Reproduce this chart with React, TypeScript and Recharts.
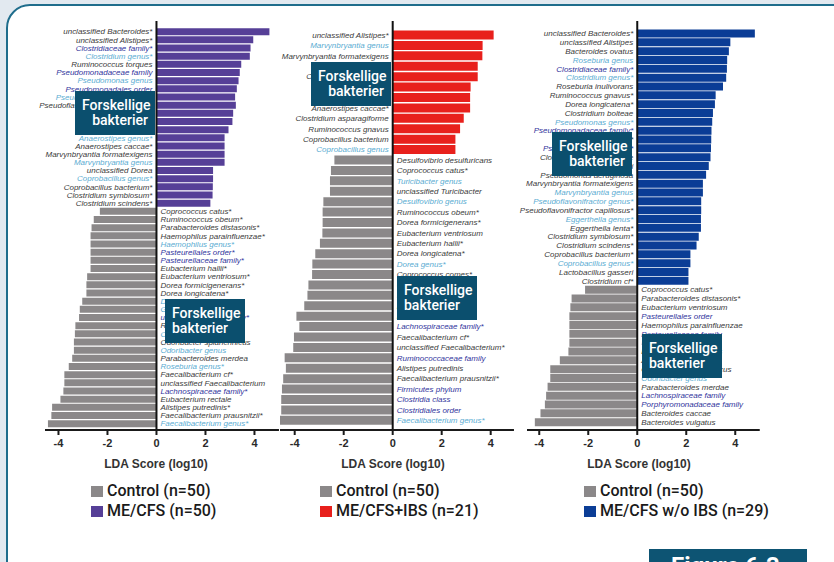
import React from 'react';
import { BarChart, Bar, XAxis, YAxis, Cell, LabelList, ReferenceLine } from 'recharts';

// ---------- Panel 1: ME/CFS vs Control ----------
const p1PosLabels = [
  'unclassified Bacteroides*', 'unclassified Alistipes*', 'Clostridiaceae family*', 'Clostridium genus*',
  'Ruminococcus torques', 'Pseudomonadaceae family', 'Pseudomonas genus', 'Pseudomonadales order',
  'Pseudoflavonifractor genus', 'Pseudoflavonifractor capillosus*', 'Eggerthella lenta', 'Roseburia inulivorans',
  'Clostridium bolteae', 'Anaerostipes genus*', 'Anaerostipes caccae*', 'Marvynbryantia formatexigens',
  'Marvynbryantia genus', 'unclassified Dorea', 'Coprobacillus genus*', 'Coprobacillus bacterium*',
  'Clostridium symbiosum*', 'Clostridium scindens*',
];
const p1PosKinds = ['s', 's', 'f', 'g', 's', 'f', 'g', 'f', 'g', 's', 's', 's', 's', 'g', 's', 's', 'g', 's', 'g', 's', 's', 's'];
const p1PosValues = [4.61, 3.95, 3.84, 3.81, 3.46, 3.4, 3.35, 3.28, 3.21, 3.24, 3.13, 3.1, 2.94, 2.78, 2.78, 2.78, 2.78, 2.31, 2.31, 2.3, 2.29, 2.2];
const p1NegLabels = [
  'Coprococcus catus*', 'Ruminococcus obeum*', 'Parabacteroides distasonis*', 'Haemophilus parainfluenzae*',
  'Haemophilus genus*', 'Pasteurellales order*', 'Pasteurellaceae family*', 'Eubacterium hallii*',
  'Eubacterium ventriosum*', 'Dorea formicigenerans*', 'Dorea longicatena*', 'Dorea genus*',
  'Gemmiger genus*', 'uncl. Clostridiales family*', 'Ruminococcus bromii', 'Coprococcus genus',
  'Odoribacter splanchnicus', 'Odoribacter genus', 'Parabacteroides merdea', 'Roseburia genus*',
  'Faecalibacterium cf*', 'unclassified Faecalibacterium', 'Lachnospiraceae family*', 'Eubacterium rectale',
  'Alistipes putredinis*', 'Faecalibacterium prausnitzii*', 'Faecalibacterium genus*',
];
const p1NegKinds = ['s', 's', 's', 's', 'g', 'f', 'f', 's', 's', 's', 's', 'g', 'g', 'f', 's', 'g', 's', 'g', 's', 'g', 's', 's', 'f', 's', 's', 's', 'g'];
const p1NegValues = [-2.31, -2.56, -2.65, -2.69, -2.69, -2.69, -2.69, -2.69, -2.83, -2.86, -2.86, -3.03, -3.13, -3.16, -3.31, -3.33, -3.37, -3.37, -3.44, -3.58, -3.76, -3.76, -3.8, -3.92, -4.26, -4.29, -4.43];

// ---------- Panel 2: ME/CFS+IBS vs Control ----------
const p2PosLabels = [
  'unclassified Alistipes*', 'Marvynbryantia genus', 'Marvynbryantia formatexigens', 'Clostridium bolteae',
  'Clostridium symbiosum', 'Clostridium scindens', 'Anaerostipes genus', 'Anaerostipes caccae*',
  'Clostridium asparagiforme', 'Ruminococcus gnavus', 'Coprobacillus bacterium', 'Coprobacillus genus',
];
const p2PosKinds = ['s', 'g', 's', 's', 's', 's', 'g', 's', 's', 's', 's', 'g'];
const p2PosValues = [4.12, 3.67, 3.66, 3.47, 3.47, 3.18, 3.16, 3.16, 2.9, 2.75, 2.56, 2.56];
const p2NegLabels = [
  'Desulfovibrio desulfuricans', 'Coprococcus catus*', 'Turicibacter genus', 'unclassified Turicibacter',
  'Desulfovibrio genus', 'Ruminococcus obeum*', 'Dorea formicigenerans*', 'Eubacterium ventriosum',
  'Eubacterium hallii*', 'Dorea longicatena*', 'Dorea genus*', 'Coprococcus comes*',
  'Coprococcus genus*', 'Roseburia genus', 'Eubacterium rectale', 'Roseburia faecis',
  'Lachnospiraceae family*', 'Faecalibacterium cf*', 'unclassified Faecalibacterium*', 'Ruminococcaceae family',
  'Alistipes putredinis', 'Faecalibacterium prausnitzii*', 'Firmicutes phylum', 'Clostridia class',
  'Clostridiales order', 'Faecalibacterium genus*',
];
const p2NegKinds = ['s', 's', 'g', 's', 'g', 's', 's', 's', 's', 's', 'g', 's', 'g', 'g', 's', 's', 'f', 's', 's', 'f', 's', 's', 'f', 'f', 'f', 'g'];
const p2NegValues = [-2.38, -2.52, -2.56, -2.56, -2.83, -2.86, -2.86, -2.87, -2.97, -3.16, -3.28, -3.29, -3.44, -3.48, -3.61, -3.93, -3.81, -4.03, -4.06, -4.41, -4.36, -4.47, -4.52, -4.55, -4.55, -4.61];

// ---------- Panel 3: ME/CFS w/o IBS vs Control ----------
const p3PosLabels = [
  'unclassified Bacteroides*', 'unclassified Alistipes', 'Bacteroides ovatus', 'Roseburia genus',
  'Clostridiaceae family*', 'Clostridium genus*', 'Roseburia inulivorans', 'Ruminococcus gnavus*',
  'Dorea longicatena*', 'Clostridium bolteae', 'Pseudomonas genus*', 'Pseudomonadaceae family*',
  'Anaerostipes caccae*', 'Pseudomonadales order*', 'Clostridium asparagiforme', 'Clostridium hathewayi',
  'Pseudomonas aeruginosa', 'Marvynbryantia formatexigens', 'Marvynbryantia genus', 'Pseudoflavonifractor genus*',
  'Pseudoflavonifractor capillosus*', 'Eggerthella genus*', 'Eggerthella lenta*', 'Clostridium symbiosum*',
  'Clostridium scindens*', 'Coprobacillus bacterium*', 'Coprobacillus genus*', 'Lactobacillus gasseri',
  'Clostridium cf*',
];
const p3PosKinds = ['s', 's', 's', 'g', 'f', 'g', 's', 's', 's', 's', 'g', 'f', 's', 'f', 's', 's', 's', 's', 'g', 'g', 's', 'g', 's', 's', 's', 's', 'g', 's', 's'];
const p3PosValues = [4.8, 3.8, 3.74, 3.67, 3.66, 3.63, 3.5, 3.2, 3.17, 3.09, 3.06, 3.03, 3.02, 3.01, 2.99, 2.92, 2.81, 2.68, 2.68, 2.61, 2.61, 2.6, 2.6, 2.51, 2.42, 2.17, 2.17, 2.09, 2.09];
const p3NegLabels = [
  'Coprococcus catus*', 'Parabacteroides distasonis*', 'Eubacterium ventriosum', 'Pasteurellales order',
  'Haemophilus parainfluenzae', 'Pasteurellaceae family', 'Haemophilus genus', 'Dorea formicigenerans',
  'Alistipes putredinis', 'Odoribacter splanchnicus', 'Odoribacter genus', 'Parabacteroides merdae',
  'Lachnospiraceae family', 'Porphyromonadaceae family', 'Bacteroides caccae', 'Bacteroides vulgatus',
];
const p3NegKinds = ['s', 's', 's', 'f', 's', 'f', 'g', 's', 's', 's', 'g', 's', 'f', 'f', 's', 's'];
const p3NegValues = [-2.13, -2.68, -2.73, -2.77, -2.77, -2.77, -2.77, -2.81, -3.16, -3.55, -3.55, -3.66, -3.72, -3.77, -3.95, -4.18];

const xTicks = [-4, -2, 0, 2, 4];
const legend1 = ['Control (n=50)', 'ME/CFS (n=50)'];
const legend2 = ['Control (n=50)', 'ME/CFS+IBS (n=21)'];
const legend3 = ['Control (n=50)', 'ME/CFS w/o IBS (n=29)'];
const axisTitle = 'LDA Score (log10)';

const GRAY = '#8b8889';
const PURPLE = '#563f97';
const RED = '#e8201c';
const BLUE = '#0b3d96';
const KIND_COLORS: Record<string, string> = { s: '#3a3a3a', g: '#5aacd2', f: '#30339c' };
const LABEL_FONT = '"Liberation Sans", Arial, sans-serif';
const BOX_FONT = 'Roboto, "Noto Sans", sans-serif';

type Row = { name: string; v: number; kind: string };

function buildRows(pl: string[], pk: string[], pv: number[], nl: string[], nk: string[], nv: number[]): Row[] {
  const rows: Row[] = [];
  pl.forEach((n, i) => rows.push({ name: n, v: pv[i], kind: pk[i] }));
  nl.forEach((n, i) => rows.push({ name: n, v: nv[i], kind: nk[i] }));
  return rows;
}

const rows1 = buildRows(p1PosLabels, p1PosKinds, p1PosValues, p1NegLabels, p1NegKinds, p1NegValues);
const rows2 = buildRows(p2PosLabels, p2PosKinds, p2PosValues, p2NegLabels, p2NegKinds, p2NegValues);
const rows3 = buildRows(p3PosLabels, p3PosKinds, p3PosValues, p3NegLabels, p3NegKinds, p3NegValues);

const labelRenderer = (rows: Row[]) => (props: any) => {
  const vb = props.viewBox || {};
  const x = Number(props.x ?? vb.x);
  const y = Number(props.y ?? vb.y);
  const w = Number(props.width ?? vb.width);
  const h = Number(props.height ?? vb.height);
  let row: Row | undefined = typeof props.index === 'number' ? rows[props.index] : undefined;
  if (!row || row.name !== props.value) row = rows.find((r) => r.name === props.value);
  if (!row || isNaN(x) || isNaN(y)) return null;
  const cy = y + h / 2;
  const pos = row.v >= 0;
  const zero = pos ? Math.min(x, x + w) : Math.max(x, x + w);
  return (
    <text
      x={pos ? zero - 4 : zero + 4}
      y={cy}
      dy="0.35em"
      textAnchor={pos ? 'end' : 'start'}
      fontSize={8}
      fontStyle="italic"
      fontFamily={LABEL_FONT}
      fill={KIND_COLORS[row.kind]}
    >
      {row.name}
    </text>
  );
};

const UNIT = 24.5;
const ML = 40;
const MR = 20;

function Panel(props: { rows: Row[]; color: string; zeroX: number; dmin: number; dmax: number; padTop: number; padBottom: number }) {
  const { rows, color, zeroX, dmin, dmax, padTop, padBottom } = props;
  const plotW = (dmax - dmin) * UNIT;
  const plotLeft = zeroX + dmin * UNIT;
  return (
    <div style={{ position: 'absolute', left: plotLeft - ML, top: 0 }}>
      <BarChart
        width={plotW + ML + MR}
        height={480}
        data={rows}
        layout="vertical"
        margin={{ top: 21, right: MR, bottom: 20, left: ML }}
        barCategoryGap="7%"
        style={{ overflow: 'visible' }}
      >
        <XAxis
          type="number"
          domain={[dmin, dmax]}
          ticks={xTicks}
          allowDataOverflow
          interval={0}
          height={30}
          axisLine={{ stroke: '#1a1a1a', strokeWidth: 2 }}
          tickLine={{ stroke: '#1a1a1a', strokeWidth: 2 }}
          tickSize={5}
          tickMargin={4}
          tick={{ fontSize: 11, fontWeight: 700, fill: '#2a2a2a', fontFamily: LABEL_FONT }}
        />
        <YAxis type="category" dataKey="name" hide padding={{ top: padTop, bottom: padBottom }} />
        <Bar dataKey="v" isAnimationActive={false}>
          {rows.map((r, i) => (
            <Cell key={i} fill={r.v >= 0 ? color : GRAY} />
          ))}
          <LabelList dataKey="name" content={labelRenderer(rows)} />
        </Bar>
        <ReferenceLine x={0} stroke="#111" strokeWidth={2} ifOverflow="extendDomain" />
      </BarChart>
    </div>
  );
}

function Box(props: { left: number; top: number; align: 'left' | 'right' }) {
  return (
    <div
      style={{
        position: 'absolute',
        left: props.left,
        top: props.top,
        width: 80,
        height: 44,
        background: '#0b4f6e',
        color: '#fff',
        fontFamily: BOX_FONT,
        fontSize: 14,
        fontWeight: 500,
        lineHeight: '14.5px',
        textAlign: props.align,
        boxSizing: 'border-box',
        padding: '7px 7px 0 7px',
        zIndex: 5,
      }}
    >
      <div>Forskellige</div>
      <div>bakterier</div>
    </div>
  );
}

function Legend(props: { left: number; items: string[]; color: string }) {
  const sq = (top: number, c: string) => (
    <div style={{ position: 'absolute', left: props.left, top, width: 12, height: 11, background: c }} />
  );
  const txt = (top: number, t: string) => (
    <div
      style={{
        position: 'absolute',
        left: props.left + 16,
        top,
        fontFamily: BOX_FONT,
        fontSize: 16,
        fontWeight: 500,
        lineHeight: '20px',
        color: '#1a1a1a',
        whiteSpace: 'nowrap',
      }}
    >
      {t}
    </div>
  );
  return (
    <>
      {sq(486, GRAY)}
      {txt(481, props.items[0])}
      {sq(506, props.color)}
      {txt(501, props.items[1])}
    </>
  );
}

function AxisTitle(props: { cx: number }) {
  return (
    <div
      style={{
        position: 'absolute',
        left: props.cx - 80,
        width: 160,
        top: 456,
        textAlign: 'center',
        fontFamily: LABEL_FONT,
        fontSize: 12,
        fontWeight: 700,
        lineHeight: '16px',
        color: '#333',
      }}
    >
      {axisTitle}
    </div>
  );
}

export default function App() {
  return (
    <div
      style={{
        position: 'absolute',
        left: 0,
        top: 0,
        width: 834,
        height: 562,
        overflow: 'hidden',
        background: '#e2e9f0',
      }}
    >
      <div
        style={{
          position: 'absolute',
          left: 6,
          top: 4,
          width: 880,
          height: 640,
          border: '2px solid #1f6d8c',
          borderRadius: 24,
          background: '#ffffff',
        }}
      />
      <Panel rows={rows1} color={PURPLE} zeroX={156} dmin={-4.55} dmax={5.0} padTop={6.6} padBottom={2.2} />
      <Panel rows={rows2} color={RED} zeroX={392.7} dmin={-4.6} dmax={4.95} padTop={8.8} padBottom={4.5} />
      <Panel rows={rows3} color={BLUE} zeroX={637} dmin={-4.5} dmax={5.0} padTop={7.9} padBottom={3.6} />

      <AxisTitle cx={156} />
      <AxisTitle cx={393} />
      <AxisTitle cx={639} />

      <Legend left={91} items={legend1} color={PURPLE} />
      <Legend left={320} items={legend2} color={RED} />
      <Legend left={584} items={legend3} color={BLUE} />

      <Box left={75} top={91} align="right" />
      <Box left={165} top={299} align="left" />
      <Box left={311} top={62} align="right" />
      <Box left={397} top={276} align="left" />
      <Box left={552} top={132} align="right" />
      <Box left={642} top={334} align="left" />

      <div
        style={{
          position: 'absolute',
          left: 649,
          top: 549,
          width: 158,
          height: 40,
          background: '#0d5473',
          color: '#fff',
          fontFamily: BOX_FONT,
          fontSize: 24,
          fontWeight: 700,
          lineHeight: '24px',
          paddingLeft: 22,
          paddingTop: 5,
          boxSizing: 'border-box',
          zIndex: 5,
        }}
      >
        Figure 6.3
      </div>
    </div>
  );
}
